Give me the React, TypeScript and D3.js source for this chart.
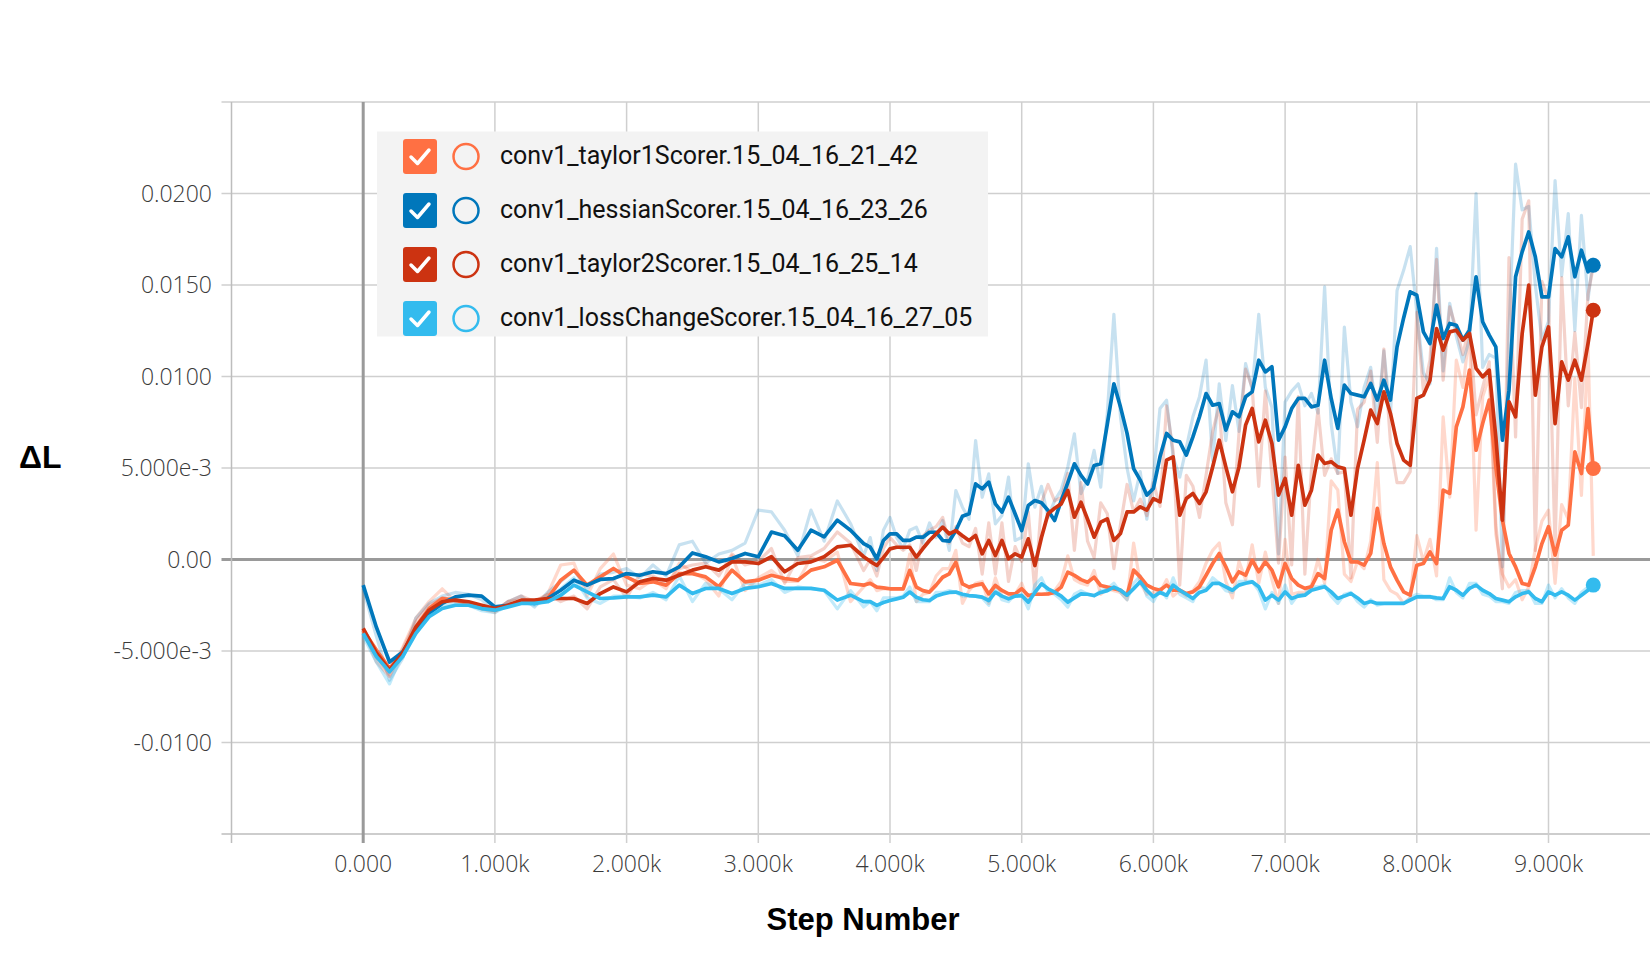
import React from "react";
import * as d3 from "d3";

// x positions (training steps)
const STEPS = [
  0, 100, 200, 300, 400, 500, 600, 700, 800, 900,
  1000, 1100, 1200, 1300, 1400, 1500, 1600, 1700, 1800, 1900,
  2000, 2100, 2200, 2300, 2400, 2500, 2600, 2700, 2800, 2900,
  3000, 3100, 3200, 3300, 3400, 3500, 3600, 3700, 3800,
  3850, 3900, 3950, 4000, 4050, 4100, 4150, 4200, 4250, 4300,
  4350, 4400, 4450, 4500, 4550, 4600, 4650, 4700, 4750, 4800,
  4850, 4900, 4950, 5000, 5050, 5100, 5150, 5200, 5250, 5300,
  5350, 5400, 5450, 5500, 5550, 5600, 5650, 5700, 5750, 5800,
  5850, 5900, 5950, 6000, 6050, 6100, 6150, 6200, 6250, 6300,
  6350, 6400, 6450, 6500, 6550, 6600, 6650, 6700, 6750, 6800,
  6850, 6900, 6950, 7000, 7050, 7100, 7150, 7200, 7250, 7300,
  7350, 7400, 7450, 7500, 7550, 7600, 7650, 7700, 7750, 7800,
  7850, 7900, 7950, 8000, 8050, 8100, 8150, 8200, 8250, 8300,
  8350, 8400, 8450, 8500, 8550, 8600, 8650, 8700, 8750, 8800,
  8850, 8900, 8950, 9000, 9050, 9100, 9150, 9200, 9250, 9300,
  9340,
];

// values in units of 1e-3
const TAYLOR1_SMOOTH = [
  -3.86, -4.95, -5.95, -5.1, -3.68, -2.68, -2.13, -2.22, -2.4, -2.59,
  -2.77, -2.5, -2.31, -2.31, -2.13, -1.13, -0.58, -1.4, -0.95, -0.49,
  -0.95, -1.31, -1.22, -1.4, -0.77, -0.77, -0.95, -1.49, -0.58, -1.22,
  -1.13, -0.86, -1.04, -1.13, -0.58, -0.4, -0.04, -1.31, -1.4,
  -1.3, -1.51, -1.55, -1.6, -1.6, -1.6, -0.6, -1.51, -1.7, -1.78,
  -1.4, -0.97, -0.78, -0.15, -1.33, -1.51, -1.4, -1.33, -1.88, -1.42,
  -1.69, -1.88, -1.88, -1.6, -1.97, -1.9, -1.9, -1.88, -1.8, -1.51,
  -0.69, -0.87, -1.1, -1.24, -0.97, -1.42, -1.5, -1.6, -1.68, -1.95,
  -0.58, -0.95, -1.4, -1.58, -1.68, -1.4, -1.68, -1.68, -1.86, -1.77,
  -1.49, -0.86, -0.22, 0.33, -0.4, -1.22, -0.67, -0.86, -0.04, -0.67,
  -0.13, -0.58, -1.49, -0.22, -1.04, -1.4, -1.58, -1.49, -0.77, -1.04,
  1.6, 2.7, 0.97, -0.13, -0.13, -0.31, 0.33, 2.79, 0.87, -0.4,
  -1.13, -1.77, -1.95, -0.31, -0.22, 0.42, -0.22, 3.79, 3.61, 7.25,
  8.34, 10.35, 5.97, 7.43, 8.71, 5.06, 2.15, 0.33, -0.4, -1.31,
  -1.4, -0.4, 0.87, 1.79, 0.24, 1.6, 1.88, 5.88, 4.7, 8.25,
  4.97,
];
const HESSIAN_SMOOTH = [
  -1.4, -3.7, -5.6, -5.05, -3.86, -2.95, -2.4, -2.04, -1.95, -2.0,
  -2.59, -2.5, -2.31, -2.4, -2.13, -1.68, -1.13, -1.4, -1.09, -1.04,
  -0.77, -0.86, -0.67, -0.77, -0.4, 0.36, 0.15, -0.13, 0.05, 0.33,
  0.15, 1.5, 1.3, 0.51, 1.6, 1.24, 2.15, 1.6, 0.87,
  0.67, 0.04, 1.04, 1.4, 1.4, 1.04, 1.04, 1.22, 1.22, 1.49,
  1.49, 1.04, 1.0, 1.58, 2.36, 2.5, 4.13, 3.86, 4.23, 3.04,
  2.59, 3.41, 2.5, 1.58, 2.95, 3.22, 3.1, 2.68, 2.13, 3.22,
  4.2, 5.23, 4.6, 4.13, 5.14, 5.23, 7.4, 9.6, 8.34, 6.89,
  4.97, 4.34, 3.52, 3.88, 5.61, 6.89, 6.52, 6.43, 5.7, 6.7,
  7.8, 9.07, 8.43, 8.52, 7.07, 8.07, 7.8, 8.89, 9.16, 10.89,
  10.25, 10.53, 6.52, 7.25, 8.25, 8.8, 8.8, 8.34, 8.43, 10.89,
  8.8, 7.16, 9.53, 9.07, 8.98, 8.89, 9.62, 8.71, 9.8, 8.71,
  11.62, 13.2, 14.63, 14.44, 12.44, 11.8, 13.9, 12.08, 12.9, 12.8,
  11.99, 12.53, 15.45, 12.99, 12.26, 11.62, 6.52, 9.25, 15.45, 16.81,
  17.9, 16.54, 14.35, 14.35, 16.99, 16.54, 17.63, 15.45, 16.9, 15.72,
  16.08,
];
const TAYLOR2_SMOOTH = [
  -3.77, -5.1, -6.05, -5.1, -3.7, -2.77, -2.31, -2.22, -2.31, -2.5,
  -2.68, -2.5, -2.22, -2.22, -2.13, -2.13, -2.13, -2.4, -1.86, -1.5,
  -1.77, -1.22, -1.04, -1.13, -0.86, -0.58, -0.4, -0.58, -0.13, -0.13,
  -0.22, 0.15, -0.67, -0.22, -0.13, 0.15, 0.69, 0.78, 0.15,
  -0.1, -0.33, 0.1, 0.58, 0.67, 0.67, 0.67, 0.13, 0.6, 1.04,
  1.4, 1.77, 1.4, 1.58, 1.3, 1.04, 1.31, 0.31, 1.04, 0.22,
  1.04, 0.04, 0.31, 0.13, 1.13, -0.33, 1.2, 2.5, 2.8, 3.04,
  3.77, 2.31, 3.13, 2.2, 1.22, 2.04, 2.22, 1.04, 1.42, 2.6,
  2.6, 2.88, 2.7, 3.33, 3.15, 5.43, 5.61, 2.42, 3.33, 3.61,
  3.06, 3.7, 5.06, 6.52, 5.06, 3.7, 5.06, 7.34, 8.25, 6.43,
  7.61, 6.34, 3.52, 4.43, 2.42, 5.15, 2.97, 3.79, 5.7, 5.25,
  5.34, 5.06, 4.97, 2.42, 4.97, 6.52, 8.16, 7.43, 9.16, 7.98,
  6.34, 5.43, 5.15, 8.8, 8.98, 9.8, 12.62, 11.44, 12.44, 12.53,
  11.99, 12.35, 10.44, 9.98, 10.35, 6.7, 2.15, 8.62, 7.8, 12.35,
  14.99, 8.98, 11.62, 12.71, 7.43, 10.8, 9.8, 10.89, 9.8, 11.8,
  13.62,
];
const LOSSCHANGE_SMOOTH = [
  -4.04, -5.3, -6.14, -5.3, -4.04, -3.13, -2.68, -2.5, -2.5, -2.68,
  -2.77, -2.59, -2.4, -2.4, -2.31, -1.95, -1.4, -1.77, -2.13, -2.1,
  -2.04, -2.04, -1.95, -2.04, -1.4, -1.86, -1.58, -1.58, -1.86, -1.58,
  -1.49, -1.31, -1.58, -1.58, -1.58, -1.68, -2.22, -1.95, -2.3,
  -2.3, -2.51, -2.35, -2.24, -2.15, -2.06, -1.78, -2.06, -2.2, -2.24,
  -2.0, -1.88, -1.8, -1.78, -1.9, -1.97, -2.0, -2.06, -2.24, -1.78,
  -2.0, -2.15, -2.0, -1.97, -2.33, -1.8, -1.33, -1.6, -1.78, -2.0,
  -2.33, -2.1, -1.88, -1.9, -1.97, -1.8, -1.7, -1.51, -1.68, -1.95,
  -1.6, -1.22, -1.68, -2.04, -1.8, -1.95, -1.4, -1.68, -1.9, -2.13,
  -1.8, -1.68, -1.31, -1.31, -1.5, -1.68, -1.4, -1.3, -1.22, -1.49,
  -2.22, -1.95, -2.22, -1.77, -2.13, -2.0, -1.95, -1.68, -1.58, -1.49,
  -1.77, -2.13, -2.0, -1.86, -2.1, -2.4, -2.3, -2.4, -2.4, -2.4,
  -2.4, -2.4, -2.22, -2.04, -2.04, -2.04, -2.1, -2.13, -1.49, -1.68,
  -1.95, -1.58, -1.4, -1.68, -1.86, -2.13, -2.22, -2.31, -2.04, -1.86,
  -1.77, -2.13, -2.31, -1.77, -1.95, -1.77, -1.95, -2.22, -1.95, -1.68,
  -1.4,
];

// raw (unsmoothed) values, units of 1e-3
const TAYLOR1_RAW = [
  -3.9, -5.3, -6.3, -4.8, -3.2, -2.3, -1.6, -2.3, -2.5, -2.7,
  -2.9, -2.3, -2.2, -2.4, -1.9, -0.3, -0.2, -2.0, -0.5, 0.3,
  -1.4, -1.6, -1.1, -1.6, -0.2, -0.7, -1.1, -2.0, 0.2, -1.7,
  -1.0, -0.6, -1.2, -1.2, 0.1, -0.1, 0.4, -2.3, -1.5,
  -1.1, -1.7, -1.6, -1.6, -1.6, -1.6, 0.3, -2.3, -1.9, -1.8,
  -0.9, -0.5, -0.5, 0.5, -2.4, -1.7, -1.3, -1.2, -2.4, -1.0,
  -2.0, -2.1, -1.9, -1.3, -2.3, -1.8, -1.9, -1.9, -1.7, -1.2,
  0.2, -1.1, -1.3, -1.4, -0.6, -1.9, -1.6, -1.7, -1.8, -2.2,
  0.9, -1.3, -1.9, -1.8, -1.8, -1.1, -2.0, -1.7, -2.0, -1.7,
  -1.2, -0.2, 0.5, 0.9, -1.2, -2.1, -0.1, -1.1, 0.8, -1.3,
  0.4, -1.1, -2.4, 1.1, -1.9, -1.8, -1.8, -1.4, 0.0, -1.3,
  4.3, 3.8, -0.8, -1.2, -0.1, -0.5, 1.0, 5.3, -1.1, -1.7,
  -1.9, -2.4, -2.1, 1.3, -0.1, 1.1, -0.9, 7.8, 3.4, 10.9,
  9.4, 12.4, 1.6, 8.9, 10.0, 1.4, -0.8, -1.5, -1.1, -2.2,
  -1.5, 0.6, 2.1, 2.7, -1.3, 3.0, 2.2, 9.9, 3.5, 11.8,
  0.2,
];
const HESSIAN_RAW = [
  -1.6, -4.2, -6.6, -5.4, -3.2, -2.4, -2.0, -1.8, -1.9, -2.2,
  -2.8, -2.3, -2.0, -2.6, -1.8, -1.2, -0.6, -1.6, -0.8, -0.7,
  -0.5, -1.0, -0.3, -0.9, 0.8, 1.0, -0.2, 0.3, 0.5, 0.9,
  2.7, 2.6, 1.6, 0.2, 2.7, 1.0, 3.2, 1.97, 0.2,
  1.2, -0.6, 1.6, 2.3, 1.2, 0.6, 1.6, 1.77, 0.9, 2.0,
  1.2, 2.13, 0.5, 3.77, 2.86, 2.2, 6.5, 3.4, 4.68, 1.95,
  2.4, 4.5, 1.04, 1.2, 5.23, 2.86, 4.0, 2.3, 3.22, 3.8,
  5.05, 6.87, 3.6, 4.4, 5.96, 3.95, 8.0, 13.4, 7.8, 5.0,
  3.2, 4.8, 2.2, 4.5, 8.25, 8.7, 5.6, 4.5, 6.1, 7.8,
  8.9, 10.9, 5.4, 9.6, 6.5, 9.5, 7.0, 10.7, 9.3, 13.4,
  9.4, 8.3, 0.3, 8.6, 9.2, 9.6, 8.4, 9.07, 8.0, 14.9,
  7.4, 4.7, 12.7, 8.6, 7.25, 9.4, 10.5, 7.6, 11.4, 7.9,
  14.7, 15.8, 17.1, 13.5, 10.2, 9.6, 17.0, 10.3, 14.0, 12.2,
  10.8, 12.0, 20.0, 10.5, 11.2, 11.0, -0.4, 12.5, 21.6, 19.1,
  19.3, 15.0, 12.0, 13.0, 20.7, 15.5, 18.9, 12.5, 18.8, 14.2,
  16.5,
];
const TAYLOR2_RAW = [
  -3.9, -5.6, -6.4, -4.9, -3.4, -2.5, -2.1, -2.2, -2.4, -2.7,
  -2.8, -2.3, -2.0, -2.3, -1.9, -2.3, -2.0, -2.7, -1.5, -1.1,
  -2.1, -0.8, -0.9, -1.3, -0.5, -0.3, -0.2, -0.9, 0.3, -0.3,
  -0.1, 0.6, -1.3, 0.1, 0.2, 0.6, 1.5, 0.9, -0.6,
  0.0, -0.9, 0.6, 1.2, 0.8, 0.5, 0.8, -0.6, 1.3, 1.6,
  1.8, 2.3, 0.9, 1.8, 0.9, 0.7, 1.7, -0.8, 2.0, -0.8,
  2.0, -1.2, 0.7, -0.1, 2.6, -1.8, 3.1, 4.1, 3.2, 3.4,
  4.7, 0.5, 4.2, 1.0, 0.1, 3.1, 2.5, -0.5, 1.9, 4.1,
  2.6, 3.3, 2.4, 4.2, 2.9, 8.4, 5.9, -1.4, 4.6, 4.0,
  2.3, 4.6, 7.0, 8.4, 3.1, 1.9, 6.9, 10.4, 9.4, 4.0,
  9.2, 4.6, -0.2, 5.6, -0.3, 8.9, -0.8, 4.9, 8.2, 4.6,
  5.5, 4.7, 4.8, -1.0, 8.2, 8.6, 10.3, 6.4, 11.5, 6.4,
  4.2, 4.2, 4.8, 13.5, 9.2, 10.9, 16.4, 9.8, 13.8, 12.6,
  11.2, 12.8, 7.9, 9.4, 10.8, 1.9, -1.6, 16.5, 6.7, 18.6,
  19.6, 0.5, 15.2, 14.2, 0.6, 15.4, 8.4, 12.4, 8.3, 14.5,
  16.0,
];
const LOSSCHANGE_RAW = [
  -4.2, -5.6, -6.8, -5.1, -3.7, -2.8, -2.5, -2.4, -2.5, -2.8,
  -2.9, -2.5, -2.3, -2.5, -2.2, -1.6, -1.0, -2.1, -2.4, -2.0,
  -2.0, -2.1, -1.8, -2.2, -0.9, -2.3, -1.3, -1.6, -2.2, -1.3,
  -1.4, -1.1, -1.8, -1.5, -1.6, -1.7, -2.7, -1.7, -2.6,
  -2.3, -2.8, -2.1, -2.1, -2.1, -2.0, -1.5, -2.3, -2.3, -2.3,
  -1.8, -1.8, -1.7, -1.8, -2.0, -2.0, -2.0, -2.1, -2.5, -1.4,
  -2.2, -2.3, -1.9, -1.9, -2.7, -1.4, -1.0, -1.8, -1.9, -2.2,
  -2.6, -1.9, -1.7, -1.9, -2.0, -1.7, -1.6, -1.3, -1.8, -2.2,
  -1.3, -0.9, -2.0, -2.3, -1.6, -2.1, -1.0, -1.9, -2.1, -2.3,
  -1.5, -1.6, -1.0, -1.3, -1.7, -1.8, -1.2, -1.2, -1.2, -1.7,
  -2.7, -1.8, -2.4, -1.4, -2.4, -1.9, -1.9, -1.5, -1.5, -1.4,
  -2.0, -2.4, -1.9, -1.8, -2.3, -2.6, -2.2, -2.5, -2.4, -2.4,
  -2.4, -2.4, -2.1, -1.9, -2.0, -2.0, -2.2, -2.2, -1.0, -1.8,
  -2.1, -1.3, -1.3, -1.9, -2.0, -2.3, -2.3, -2.4, -1.8, -1.7,
  -1.7, -2.4, -2.4, -1.4, -2.1, -1.6, -2.1, -2.4, -1.8, -1.5,
  -1.2,
];

const SERIES_NAMES = [
  "conv1_taylor1Scorer.15_04_16_21_42",
  "conv1_hessianScorer.15_04_16_23_26",
  "conv1_taylor2Scorer.15_04_16_25_14",
  "conv1_lossChangeScorer.15_04_16_27_05",
];
const SERIES_COLORS = ["#ff7043", "#0077bb", "#cc3311", "#33bbee"];
const RAW_OPACITY = [0.27, 0.22, 0.22, 0.3];
const SMOOTH_VALUES = [TAYLOR1_SMOOTH, HESSIAN_SMOOTH, TAYLOR2_SMOOTH, LOSSCHANGE_SMOOTH];
const RAW_VALUES = [TAYLOR1_RAW, HESSIAN_RAW, TAYLOR2_RAW, LOSSCHANGE_RAW];

const Y_TICKS = [-0.015, -0.01, -0.005, 0, 0.005, 0.01, 0.015, 0.02, 0.025];
const Y_TICK_LABELS = ["", "-0.0100", "-5.000e-3", "0.00", "5.000e-3", "0.0100", "0.0150", "0.0200", ""];
const X_TICKS = [-1000, 0, 1000, 2000, 3000, 4000, 5000, 6000, 7000, 8000, 9000];
const X_TICK_LABELS = ["", "0.000", "1.000k", "2.000k", "3.000k", "4.000k", "5.000k", "6.000k", "7.000k", "8.000k", "9.000k"];

const W = 1650;
const H = 953;
const LEFT = 231.5;
const TOP = 102;
const BOTTOM = 834;

const TICK_FONT = "'Open Sans', 'Helvetica Neue', Arial, sans-serif";

export default function App() {
  const x = d3.scaleLinear().domain([-1000, 10000]).range([LEFT, LEFT + 11 * 131.7]);
  const y = d3.scaleLinear().domain([-0.015, 0.025]).range([BOTTOM, TOP]);
  const line = d3
    .line<number>()
    .x((_, i) => x(STEPS[i]))
    .y((v) => y(v * 1e-3));

  const gridColor = "#cfcfcf";
  const zeroColor = "#9a9a9a";
  const axisColor = "#bdbdbd";

  const legendX = 377;
  const legendY = 131.5;
  const rowH = 54;

  return (
    <svg
      width={W}
      height={H}
      style={{ position: "absolute", left: 0, top: 0, background: "#fff" }}
    >
      <rect x={0} y={0} width={W} height={H} fill="#fff" />
      {/* horizontal grid */}
      {Y_TICKS.map((t, i) => (
        <line
          key={"yg" + i}
          x1={LEFT - 10}
          x2={W}
          y1={y(t)}
          y2={y(t)}
          stroke={t === 0 ? zeroColor : i === 0 ? axisColor : gridColor}
          strokeWidth={t === 0 ? 3 : 1.5}
        />
      ))}
      {/* vertical grid */}
      {X_TICKS.map((t, i) => (
        <line
          key={"xg" + i}
          x1={x(t)}
          x2={x(t)}
          y1={TOP}
          y2={BOTTOM + 9}
          stroke={t === 0 ? zeroColor : i === 0 ? axisColor : gridColor}
          strokeWidth={t === 0 ? 3 : 1.5}
        />
      ))}
      {/* y tick labels */}
      {Y_TICKS.map((t, i) => (
        <text
          key={"yl" + i}
          x={212}
          y={y(t) + 8}
          textAnchor="end"
          fontFamily={TICK_FONT}
          fontWeight={300}
          fontSize={23}
          fill="#3a3a3a"
        >
          {Y_TICK_LABELS[i]}
        </text>
      ))}
      {/* x tick labels */}
      {X_TICKS.map((t, i) => (
        <text
          key={"xl" + i}
          x={x(t)}
          y={872}
          textAnchor="middle"
          fontFamily={TICK_FONT}
          fontWeight={300}
          fontSize={23}
          fill="#3a3a3a"
        >
          {X_TICK_LABELS[i]}
        </text>
      ))}

      {/* raw lines */}
      {RAW_VALUES.map((vals, i) => (
        <path
          key={"raw" + i}
          d={line(vals) || ""}
          fill="none"
          stroke={SERIES_COLORS[i]}
          strokeOpacity={RAW_OPACITY[i]}
          strokeWidth={3.2}
          strokeLinejoin="round"
        />
      ))}
      {/* smoothed lines */}
      {SMOOTH_VALUES.map((vals, i) => (
        <path
          key={"sm" + i}
          d={line(vals) || ""}
          fill="none"
          stroke={SERIES_COLORS[i]}
          strokeWidth={3.7}
          strokeLinejoin="round"
        />
      ))}
      {/* end dots */}
      {SMOOTH_VALUES.map((vals, i) => (
        <circle
          key={"dot" + i}
          cx={x(STEPS[STEPS.length - 1])}
          cy={y(vals[vals.length - 1] * 1e-3)}
          r={7.5}
          fill={SERIES_COLORS[i]}
        />
      ))}

      {/* legend */}
      <rect x={legendX} y={legendY} width={611} height={205} fill="#f3f3f3" />
      {SERIES_NAMES.map((name, i) => {
        const cy = 155 + i * rowH;
        const bx = 403;
        const by = cy - 16;
        return (
          <g key={"lg" + i}>
            <rect x={bx} y={by} width={34} height={35} rx={3} fill={SERIES_COLORS[i]} />
            <path
              d={`M${bx + 8},${by + 18} L${bx + 14.5},${by + 24.5} L${bx + 26},${by + 11}`}
              fill="none"
              stroke="#fff"
              strokeWidth={3.5}
              strokeLinecap="round"
              strokeLinejoin="round"
            />
            <circle cx={466} cy={cy + 1.5} r={12.5} fill="none" stroke={SERIES_COLORS[i]} strokeWidth={2.5} />
            <text
              x={500}
              y={cy + 8.5}
              fontFamily="Roboto, 'Noto Sans', sans-serif"
              fontSize={25}
              fill="#111"
            >
              {name}
            </text>
          </g>
        );
      })}

      {/* axis titles */}
      <text
        x={19}
        y={468}
        fontFamily="'Liberation Sans', Arial, sans-serif"
        fontWeight={700}
        fontSize={32}
        fill="#000"
      >
        ΔL
      </text>
      <text
        x={863}
        y={930}
        textAnchor="middle"
        fontFamily="'Liberation Sans', Arial, sans-serif"
        fontWeight={700}
        fontSize={31}
        fill="#000"
      >
        Step Number
      </text>
    </svg>
  );
}
